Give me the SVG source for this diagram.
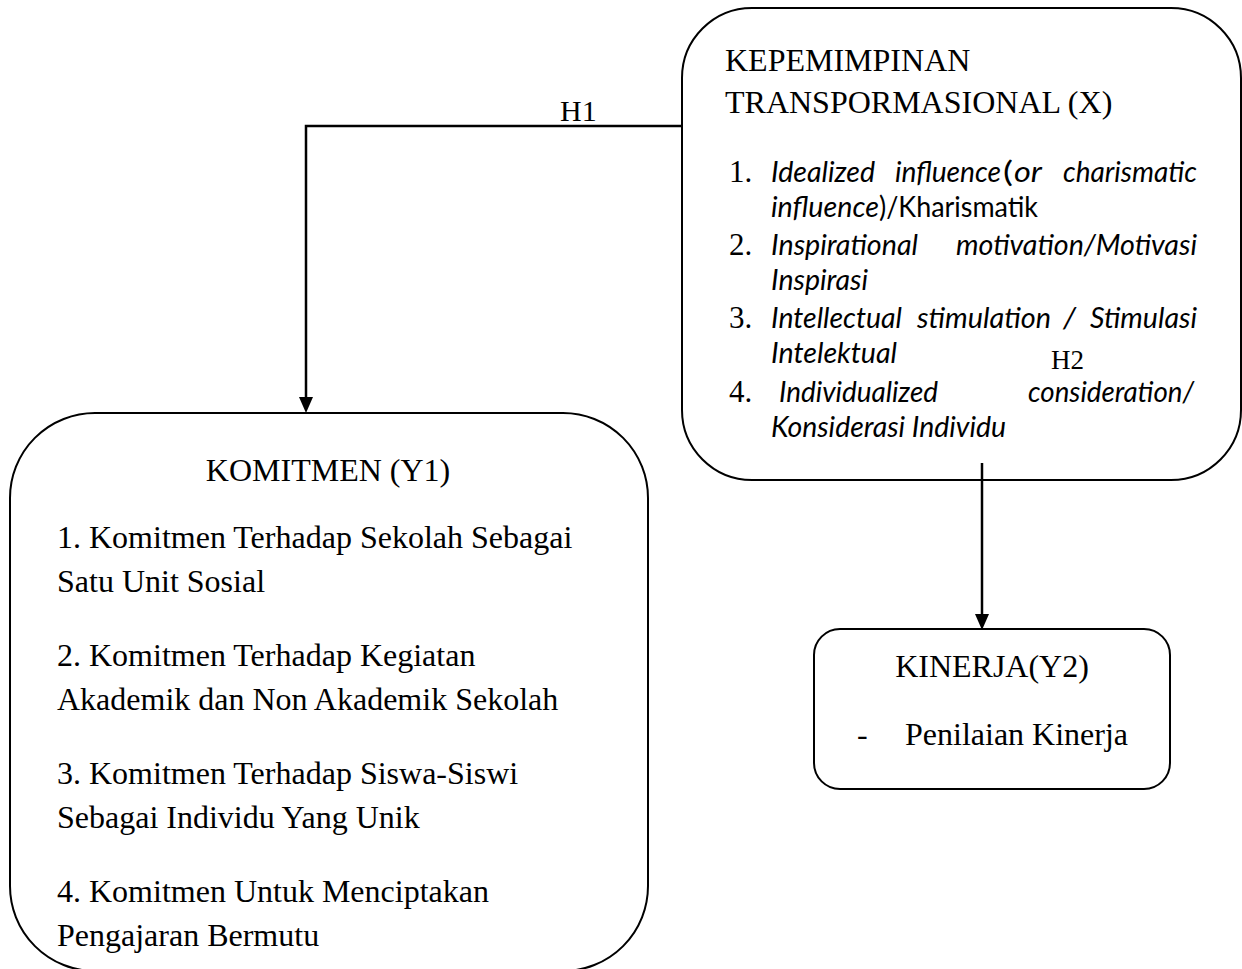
<svg xmlns="http://www.w3.org/2000/svg" width="1242" height="969" viewBox="0 0 1242 969">
<defs>
<style>
.box{fill:none;stroke:#000;stroke-width:2}
.con{fill:none;stroke:#000;stroke-width:2.5}
.tr{font-family:"Liberation Serif","Times New Roman",serif;font-size:32px;fill:#000}
.lbl{font-family:"Liberation Serif","Times New Roman",serif;font-size:30px;fill:#000}
.num{font-family:"Liberation Serif","Times New Roman",serif;font-size:31px;fill:#000}
.it{font-family:Lato,"Open Sans",sans-serif;font-style:italic;font-size:29px;fill:#000}
.rg{font-family:Lato,"Open Sans",sans-serif;font-size:29px;fill:#000}
</style>
<marker id="arr" viewBox="0 0 16 16" markerWidth="16" markerHeight="16" refX="8" refY="8" orient="auto" markerUnits="userSpaceOnUse">
<path d="M0,1 L16,8 L0,15 z" fill="#000"/>
</marker>
</defs>
<rect width="1242" height="969" fill="#fff"/>

<g id="connectors">
<path class="con" d="M682,126 H306 V405" marker-end="url(#arr)"/>
<path class="con" d="M982,463 V622" marker-end="url(#arr)"/>
<text class="lbl" x="560" y="121">H1</text>
<text class="lbl" x="1051" y="369" style="font-size:27px">H2</text>
</g>

<g id="node-x">
<rect class="box" x="682" y="8" width="559" height="472" rx="70" ry="70"/>
<text class="tr" x="725" y="71">KEPEMIMPINAN</text>
<text class="tr" x="725" y="113">TRANSPORMASIONAL (X)</text>
<text class="num" x="729" y="182">1.</text>
<text class="it" x="771" y="182" textLength="104" lengthAdjust="spacingAndGlyphs">Idealized</text>
<text class="it" x="895" y="182" textLength="106" lengthAdjust="spacingAndGlyphs">influence</text>
<text class="rg" x="1003" y="182" textLength="10" lengthAdjust="spacingAndGlyphs">(</text>
<text class="it" x="1014" y="182" textLength="28" lengthAdjust="spacingAndGlyphs">or</text>
<text class="it" x="1063" y="182" textLength="134" lengthAdjust="spacingAndGlyphs">charismatic</text>
<text class="it" x="771" y="217" textLength="108" lengthAdjust="spacingAndGlyphs">influence</text>
<text class="rg" x="879" y="217" textLength="159" lengthAdjust="spacingAndGlyphs">)/Kharismatik</text>
<text class="num" x="729" y="255">2.</text>
<text class="it" x="771" y="255" textLength="147" lengthAdjust="spacingAndGlyphs">Inspirational</text>
<text class="it" x="956" y="255" textLength="241" lengthAdjust="spacingAndGlyphs">motivation/Motivasi</text>
<text class="it" x="771" y="290" textLength="97" lengthAdjust="spacingAndGlyphs">Inspirasi</text>
<text class="num" x="729" y="328">3.</text>
<text class="it" x="771" y="328" textLength="131" lengthAdjust="spacingAndGlyphs">Intellectual</text>
<text class="it" x="917" y="328" textLength="134" lengthAdjust="spacingAndGlyphs">stimulation</text>
<text class="it" x="1063" y="328" textLength="13" lengthAdjust="spacingAndGlyphs">/</text>
<text class="it" x="1090" y="328" textLength="107" lengthAdjust="spacingAndGlyphs">Stimulasi</text>
<text class="it" x="771" y="363" textLength="126" lengthAdjust="spacingAndGlyphs">Intelektual</text>
<text class="num" x="729" y="402">4.</text>
<text class="it" x="779" y="402" textLength="159" lengthAdjust="spacingAndGlyphs">Individualized</text>
<text class="it" x="1028" y="402" textLength="166" lengthAdjust="spacingAndGlyphs">consideration/</text>
<text class="it" x="771" y="437" textLength="235" lengthAdjust="spacingAndGlyphs">Konsiderasi Individu</text>
</g>

<g id="node-y1">
<rect class="box" x="10" y="413" width="638" height="558" rx="85" ry="85"/>
<text class="tr" x="328" y="481" text-anchor="middle">KOMITMEN (Y1)</text>
<text class="tr" x="57" y="548">1. Komitmen Terhadap Sekolah Sebagai</text>
<text class="tr" x="57" y="592">Satu Unit Sosial</text>
<text class="tr" x="57" y="666">2. Komitmen Terhadap Kegiatan</text>
<text class="tr" x="57" y="710">Akademik dan Non Akademik Sekolah</text>
<text class="tr" x="57" y="784">3. Komitmen Terhadap Siswa-Siswi</text>
<text class="tr" x="57" y="828">Sebagai Individu Yang Unik</text>
<text class="tr" x="57" y="902">4. Komitmen Untuk Menciptakan</text>
<text class="tr" x="57" y="946">Pengajaran Bermutu</text>
</g>

<g id="node-y2">
<rect class="box" x="814" y="629" width="356" height="160" rx="26" ry="26"/>
<text class="tr" x="992" y="677" text-anchor="middle">KINERJA(Y2)</text>
<text class="tr" x="857" y="745">-</text>
<text class="tr" x="905" y="745">Penilaian Kinerja</text>
</g>
</svg>
